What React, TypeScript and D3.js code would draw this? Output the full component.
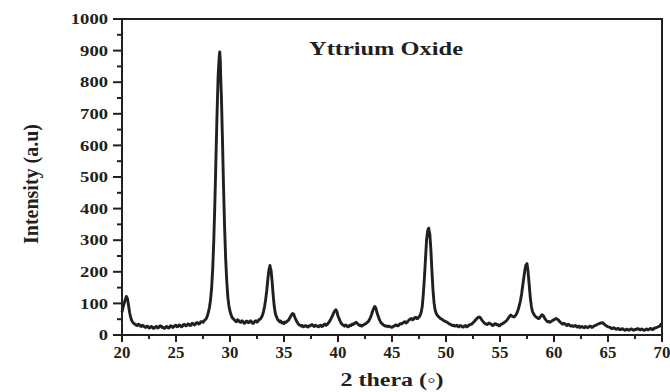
import {useMemo} from 'react'
import * as d3 from 'd3'

const WIDTH = 670
const HEIGHT = 392
const MARGIN = {top: 19, right: 8, bottom: 57, left: 122}

const FONT = 'Liberation Serif'
const INK = '#231f20'

// 2-theta / intensity pairs, split by region
const lowAngle: [number, number][] = [
  [20.0, 72], [20.1, 88], [20.2, 100], [20.3, 112], [20.4, 122], [20.5, 116], [20.6, 95],
  [20.7, 72], [20.8, 56], [20.9, 46], [21.0, 40], [21.1, 36], [21.2, 35], [21.3, 31], [21.4, 30],
  [21.5, 34], [21.6, 33], [21.7, 28], [21.8, 27], [21.9, 31], [22.0, 29], [22.1, 25], [22.2, 24],
  [22.3, 28], [22.4, 27], [22.5, 22], [22.6, 23], [22.7, 27], [22.8, 26], [22.9, 21], [23.0, 22],
  [23.1, 26], [23.2, 27], [23.3, 22], [23.4, 24], [23.5, 29], [23.6, 29], [23.7, 24], [23.8, 25],
  [23.9, 21], [24.0, 22], [24.1, 27], [24.2, 26], [24.3, 22], [24.4, 24], [24.5, 29], [24.6, 28],
  [24.7, 24], [24.8, 26], [24.9, 30], [25.0, 31], [25.1, 26], [25.2, 27], [25.3, 32], [25.4, 30],
  [25.5, 26], [25.6, 28], [25.7, 33], [25.8, 33], [25.9, 29], [26.0, 30], [26.1, 35], [26.2, 34],
  [26.3, 30], [26.4, 31], [26.5, 37], [26.6, 36], [26.7, 32], [26.8, 34], [26.9, 39], [27.0, 39],
  [27.1, 35], [27.2, 36], [27.3, 42], [27.4, 42], [27.5, 40], [27.6, 45], [27.7, 48], [27.8, 52],
  [27.9, 60],
]

const mainPeak: [number, number][] = [
  [28.0, 72], [28.1, 88], [28.2, 112], [28.3, 150], [28.4, 210], [28.5, 300], [28.6, 420],
  [28.7, 560], [28.8, 700], [28.9, 820], [29.0, 880], [29.05, 896], [29.1, 870],
  [29.15, 805], [29.2, 760], [29.3, 620], [29.4, 470], [29.5, 340], [29.6, 240],
  [29.7, 170], [29.8, 120], [29.9, 92], [30.0, 75], [30.1, 64], [30.2, 55], [30.3, 52], [30.4, 48],
  [30.5, 44], [30.6, 42], [30.7, 48], [30.8, 46], [30.9, 41], [31.0, 40], [31.1, 45], [31.2, 43],
  [31.3, 37], [31.4, 38], [31.5, 44], [31.6, 44], [31.7, 39], [31.8, 40], [31.9, 45], [32.0, 42],
  [32.1, 37], [32.2, 38], [32.3, 44], [32.4, 45], [32.5, 41], [32.6, 44], [32.7, 49], [32.8, 50],
  [32.9, 55],
]

const midAngle: [number, number][] = [
  [33.0, 62], [33.1, 74], [33.2, 90], [33.3, 112], [33.4, 140], [33.5, 175], [33.6, 205],
  [33.7, 220], [33.75, 212], [33.8, 205], [33.9, 170], [34.0, 125], [34.1, 90], [34.2, 68],
  [34.3, 58], [34.4, 50], [34.5, 46], [34.6, 42], [34.7, 44], [34.8, 38], [34.9, 40], [35.0, 36],
  [35.1, 41], [35.2, 40], [35.3, 44], [35.4, 46], [35.5, 52], [35.6, 58], [35.7, 64], [35.8, 68],
  [35.9, 66], [36.0, 56], [36.1, 48], [36.2, 42], [36.3, 36], [36.4, 32], [36.5, 31], [36.6, 28],
  [36.7, 30], [36.8, 26], [36.9, 28], [37.0, 30], [37.1, 27], [37.2, 25], [37.3, 29], [37.4, 28],
  [37.5, 31], [37.6, 33], [37.7, 29], [37.8, 27], [37.9, 31], [38.0, 30], [38.1, 27], [38.2, 26],
  [38.3, 30], [38.4, 31], [38.5, 27], [38.6, 28], [38.7, 33], [38.8, 35], [38.9, 31], [39.0, 33],
  [39.1, 38], [39.2, 42], [39.3, 48], [39.4, 55], [39.5, 62], [39.6, 70], [39.7, 76], [39.8, 80],
  [39.9, 74], [40.0, 60], [40.1, 52], [40.2, 44], [40.3, 37], [40.4, 33], [40.5, 31], [40.6, 28],
  [40.7, 32], [40.8, 30], [40.9, 26], [41.0, 27], [41.1, 31], [41.2, 30], [41.3, 34], [41.4, 33],
  [41.5, 37], [41.6, 38], [41.7, 40], [41.8, 36], [41.9, 33], [42.0, 30], [42.1, 31], [42.2, 28],
  [42.3, 31], [42.4, 32], [42.5, 35], [42.6, 36], [42.7, 40], [42.8, 42], [42.9, 48], [43.0, 55],
  [43.1, 64], [43.2, 75], [43.3, 84], [43.4, 90], [43.5, 86], [43.6, 72], [43.7, 62], [43.8, 52],
  [43.9, 44], [44.0, 38], [44.1, 35], [44.2, 32], [44.3, 30], [44.4, 28], [44.5, 29], [44.6, 26],
  [44.7, 28], [44.8, 27], [44.9, 25], [45.0, 24], [45.1, 27], [45.2, 28], [45.3, 31], [45.4, 32],
  [45.5, 29], [45.6, 30], [45.7, 34], [45.8, 36], [45.9, 35], [46.0, 38], [46.1, 41], [46.2, 42],
  [46.3, 38], [46.4, 40], [46.5, 45], [46.6, 48], [46.7, 51], [46.8, 52], [46.9, 48], [47.0, 50],
  [47.1, 55], [47.2, 56], [47.3, 52], [47.4, 53], [47.5, 57], [47.6, 62], [47.7, 72],
]

const highAngle: [number, number][] = [
  [47.8, 90], [47.9, 130], [48.0, 180], [48.1, 240], [48.2, 300], [48.3, 330], [48.4, 338],
  [48.45, 326], [48.5, 320], [48.6, 270], [48.7, 200], [48.8, 140], [48.9, 100], [49.0, 78],
  [49.1, 68], [49.2, 62], [49.3, 58], [49.4, 55], [49.5, 52], [49.6, 50], [49.7, 48], [49.8, 45],
  [49.9, 44], [50.0, 42], [50.1, 40], [50.2, 38], [50.3, 35], [50.4, 34], [50.5, 32], [50.6, 30],
  [50.7, 31], [50.8, 28], [50.9, 29], [51.0, 31], [51.1, 27], [51.2, 26], [51.3, 30], [51.4, 29],
  [51.5, 26], [51.6, 25], [51.7, 29], [51.8, 30], [51.9, 26], [52.0, 27], [52.1, 31], [52.2, 32],
  [52.3, 34], [52.4, 35], [52.5, 39], [52.6, 42], [52.7, 46], [52.8, 50], [52.9, 54], [53.0, 56],
  [53.1, 57], [53.2, 54], [53.3, 48], [53.4, 44], [53.5, 40], [53.6, 36], [53.7, 35], [53.8, 33],
  [53.9, 36], [54.0, 38], [54.1, 35], [54.2, 34], [54.3, 30], [54.4, 31], [54.5, 35], [54.6, 36],
  [54.7, 32], [54.8, 33], [54.9, 29], [55.0, 30], [55.1, 34], [55.2, 35], [55.3, 37], [55.4, 40],
  [55.5, 42], [55.6, 45], [55.7, 50], [55.8, 55], [55.9, 60], [56.0, 63], [56.1, 60], [56.2, 58],
  [56.3, 57], [56.4, 60], [56.5, 65], [56.6, 72], [56.7, 82], [56.8, 95], [56.9, 110], [57.0, 130],
  [57.1, 155], [57.2, 180], [57.3, 205], [57.4, 222], [57.5, 226], [57.55, 214], [57.6, 200],
  [57.7, 160], [57.8, 120], [57.9, 92], [58.0, 75], [58.1, 68], [58.2, 62], [58.3, 58], [58.4, 56],
  [58.5, 53], [58.6, 52], [58.7, 56], [58.8, 60], [58.9, 64], [59.0, 62], [59.1, 55], [59.2, 50],
  [59.3, 45], [59.4, 42], [59.5, 43], [59.6, 40], [59.7, 42], [59.8, 44], [59.9, 47], [60.0, 48],
  [60.1, 51], [60.2, 52], [60.3, 50], [60.4, 48], [60.5, 43], [60.6, 40], [60.7, 37], [60.8, 34],
  [60.9, 37], [61.0, 36], [61.1, 32], [61.2, 30], [61.3, 34], [61.4, 33], [61.5, 29], [61.6, 28],
  [61.7, 30], [61.8, 27], [61.9, 29], [62.0, 30], [62.1, 26], [62.2, 25], [62.3, 28], [62.4, 24],
  [62.5, 26], [62.6, 27], [62.7, 24], [62.8, 23], [62.9, 27], [63.0, 26], [63.1, 23], [63.2, 24],
  [63.3, 28], [63.4, 28], [63.5, 24], [63.6, 25], [63.7, 29], [63.8, 30], [63.9, 31], [64.0, 33],
  [64.1, 35], [64.2, 36], [64.3, 38], [64.4, 38], [64.5, 39], [64.6, 36], [64.7, 33], [64.8, 30],
  [64.9, 28], [65.0, 26], [65.1, 25], [65.2, 24], [65.3, 21], [65.4, 20], [65.5, 23], [65.6, 22],
  [65.7, 19], [65.8, 18], [65.9, 21], [66.0, 20], [66.1, 17], [66.2, 17], [66.3, 20], [66.4, 19],
  [66.5, 16], [66.6, 15], [66.7, 18], [66.8, 18], [66.9, 15], [67.0, 16], [67.1, 19], [67.2, 19],
  [67.3, 16], [67.4, 15], [67.5, 18], [67.6, 17], [67.7, 20], [67.8, 20], [67.9, 17], [68.0, 16],
  [68.1, 19], [68.2, 18], [68.3, 15], [68.4, 15], [68.5, 18], [68.6, 19], [68.7, 16], [68.8, 17],
  [68.9, 21], [69.0, 20], [69.1, 17], [69.2, 18], [69.3, 22], [69.4, 22], [69.5, 24], [69.6, 25],
  [69.7, 27], [69.8, 28], [69.9, 34], [70.0, 30],
]

const xTicks = [20, 25, 30, 35, 40, 45, 50, 55, 60, 65, 70]
const yTicks = [0, 100, 200, 300, 400, 500, 600, 700, 800, 900, 1000]

const TITLE = 'Yttrium Oxide'
const X_LABEL = '2 thera (\u25e6)'
const Y_LABEL = 'Intensity (a.u)'

export default function App() {
  const boundsWidth = WIDTH - MARGIN.left - MARGIN.right
  const boundsHeight = HEIGHT - MARGIN.top - MARGIN.bottom

  const scan = useMemo(() => [...lowAngle, ...mainPeak, ...midAngle, ...highAngle], [])

  const xScale = d3.scaleLinear().domain([20, 70]).range([0, boundsWidth])
  const yScale = d3.scaleLinear().domain([0, 1000]).range([boundsHeight, 0])

  const line = d3
    .line<[number, number]>()
    .x(d => xScale(d[0]))
    .y(d => yScale(d[1]))

  const xMinor = d3.range(22.5, 70, 5)
  const yMinor = d3.range(50, 1000, 100)

  return (
    <svg
      width={WIDTH}
      height={HEIGHT}
      style={{position: 'absolute', left: 0, top: 0, background: '#fff'}}>
      <g transform={`translate(${MARGIN.left},${MARGIN.top})`}>
        <path d={line(scan) || ''} fill="none" stroke={INK} strokeWidth={2.9} strokeLinejoin="round" />

        <rect x={0} y={0} width={boundsWidth} height={boundsHeight} fill="none" stroke={INK} strokeWidth={2} />

        {/* x axis ticks */}
        {xTicks.map(t => (
          <g key={'xt' + t} transform={`translate(${xScale(t)},${boundsHeight})`}>
            <line y1={0} y2={7} stroke={INK} strokeWidth={2} />
            <text
              y={23}
              textAnchor="middle"
              fontFamily={FONT}
              fontWeight="bold"
              fontSize={16}
              textLength={String(t).length * 8.4}
              lengthAdjust="spacingAndGlyphs"
              fill={INK}>
              {t}
            </text>
          </g>
        ))}
        {xMinor.map(t => (
          <line key={'xm' + t} x1={xScale(t)} x2={xScale(t)} y1={boundsHeight} y2={boundsHeight + 4} stroke={INK} strokeWidth={2} />
        ))}

        {/* y axis ticks */}
        {yTicks.map(t => (
          <g key={'yt' + t} transform={`translate(0,${yScale(t)})`}>
            <line x1={-9} x2={0} stroke={INK} strokeWidth={2} />
            <text
              x={-14}
              dy="0.35em"
              textAnchor="end"
              fontFamily={FONT}
              fontWeight="bold"
              fontSize={15}
              textLength={String(t).length * 9.3}
              lengthAdjust="spacingAndGlyphs"
              fill={INK}>
              {t}
            </text>
          </g>
        ))}
        {yMinor.map(t => (
          <line key={'ym' + t} x1={-5} x2={0} y1={yScale(t)} y2={yScale(t)} stroke={INK} strokeWidth={2} />
        ))}

        <text
          x={264}
          y={36}
          textAnchor="middle"
          fontFamily={FONT}
          fontWeight="bold"
          fontSize={19}
          textLength={154}
          lengthAdjust="spacingAndGlyphs"
          fill={INK}>
          {TITLE}
        </text>
      </g>

      <text
        x={392}
        y={386}
        textAnchor="middle"
        fontFamily={FONT}
        fontWeight="bold"
        fontSize={18}
        textLength={103}
        lengthAdjust="spacingAndGlyphs"
        fill={INK}>
        {X_LABEL}
      </text>

      <text
        transform={`translate(38,184) rotate(-90)`}
        textAnchor="middle"
        fontFamily={FONT}
        fontWeight="bold"
        fontSize={22}
        textLength={120}
        lengthAdjust="spacingAndGlyphs"
        fill={INK}>
        {Y_LABEL}
      </text>
    </svg>
  )
}
